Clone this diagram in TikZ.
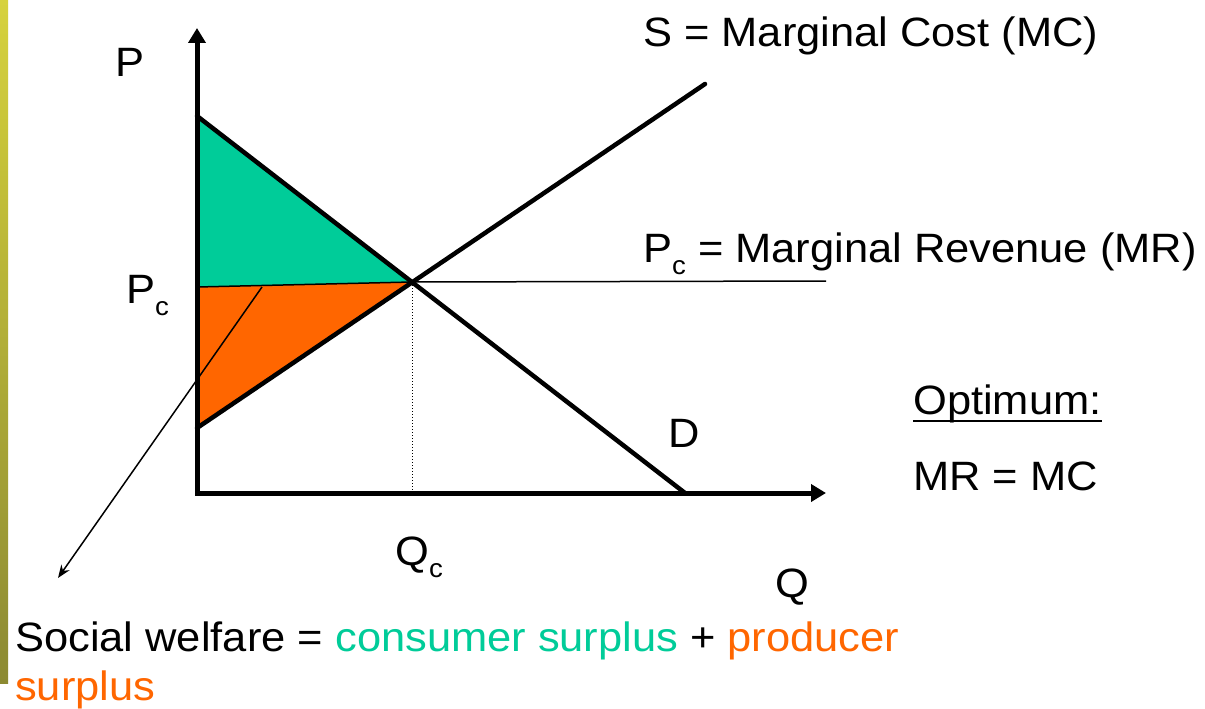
\documentclass[tikz,border=0pt]{standalone}
\usepackage{fontspec}
\setmainfont{Liberation Sans}
\usetikzlibrary{arrows.meta}
\definecolor{csgreen}{RGB}{0,204,153}
\definecolor{psorange}{RGB}{255,102,0}
\definecolor{stripTop}{RGB}{214,210,60}
\definecolor{stripMid}{RGB}{226,222,150}
\definecolor{stripBot}{RGB}{140,138,50}
\newcommand\lblfont{\fontsize{41}{48}\selectfont}
\newcommand\subc{\raisebox{-12pt}{\fontsize{26}{26}\selectfont c}}
\newcommand\sx[1]{\scalebox{1.06}[1]{#1}}
\begin{document}
\begin{tikzpicture}[x=1pt,y=-1pt,
  axisline/.style={line width=5pt, line join=miter,
     {Triangle[length=15pt,width=17pt]}-{Triangle[length=15pt,width=17pt]}},
  curveline/.style={line width=4.5pt, line cap=round},
  thinline/.style={line width=1.5pt},
  dotline/.style={line width=1pt, dotted},
  txt/.style={anchor=base west, inner sep=0pt, font=\lblfont},
]
\useasboundingbox (0,0) rectangle (1205,709);
\fill[white] (0,0) rectangle (1205,709);
% left strip
\shade[top color=stripTop, middle color=stripMid, bottom color=stripBot] (0,0) rectangle (8,683);

% key points
\coordinate (O) at (197,493);
\coordinate (Ptop) at (197,28);
\coordinate (Qend) at (826,493);
\coordinate (Dtop) at (197,116);
\coordinate (Dend) at (685,493);
\coordinate (Stop) at (705,84);
\coordinate (Sbot) at (197,428);
\coordinate (E) at (412,282);
\coordinate (PcL) at (197,287);
\coordinate (PcR) at (826,281);
\coordinate (Qc) at (412,493);
\coordinate (arrS) at (262,287);
\coordinate (arrE) at (58,578);

% surplus areas
\fill[csgreen] (Dtop) -- (E) -- (PcL) -- cycle;
\fill[psorange] (PcL) -- (E) -- (Sbot) -- cycle;

% thin lines
\draw[thinline] (PcL) -- (E) -- (PcR);
\draw[dotline] (E) -- (Qc);
\draw[thinline, -{Stealth[length=13pt,width=10pt]}] (arrS) -- (arrE);

% curves
\draw[curveline] (Dtop) -- (Dend);
\draw[curveline] (Sbot) -- (Stop);

% axes
\draw[axisline] (Ptop) -- (O) -- (Qend);

% labels
\node[txt] (lP) at (115,77) {\sx{P}};
\node[txt] (lPc) at (126,303) {\sx{P\subc}};
\node[txt] (lS) at (643,47) {\sx{S = Marginal Cost (MC)}};
\node[txt] (lMR) at (643,262) {\sx{P\subc{} = Marginal Revenue (MR)}};
\node[txt] (opt) at (913,414) {\sx{Optimum:}};
\draw[line width=2.5pt] ([yshift=-7pt]opt.base west) -- ([yshift=-7pt]opt.base east);
\node[txt] (lD) at (668,447) {\sx{D}};
\node[txt] (lcond) at (913,490) {\sx{MR = MC}};
\node[txt] (lQc) at (395,565) {\sx{Q\subc}};
\node[txt] (lQ) at (775,597) {\sx{Q}};
\node[txt] (lW1) at (15,651) {\sx{Social welfare = \textcolor{csgreen}{consumer surplus} + \textcolor{psorange}{producer}}};
\node[txt] (lW2) at (15,700) {\sx{\textcolor{psorange}{surplus}}};
\end{tikzpicture}
\end{document}
